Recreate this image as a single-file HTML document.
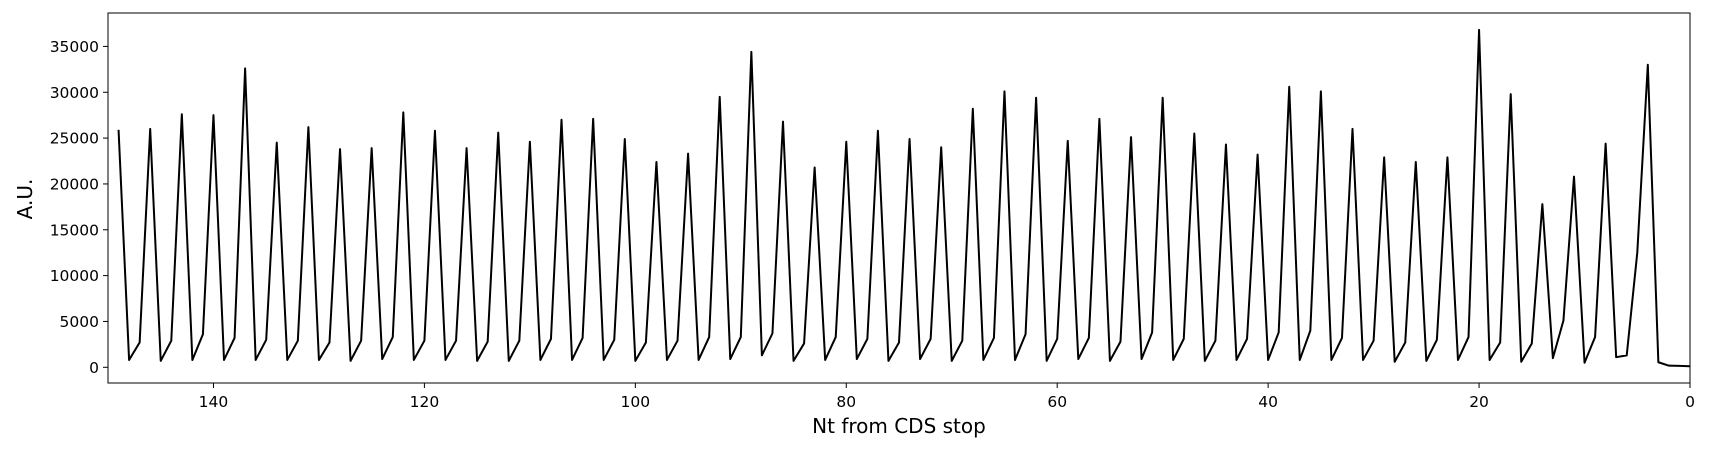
<!DOCTYPE html>
<html><head><meta charset="utf-8"><style>
html,body{margin:0;padding:0;background:#fff;}
svg{display:block;font-family:"DejaVu Sans","Liberation Sans",sans-serif;}
</style></head><body>
<svg id="chart" width="1710" height="450">
<g id="plot"></g>
</svg>
<script>
const xTicks = [140,120,100,80,60,40,20,0];
const yTicks = [0,5000,10000,15000,20000,25000,30000,35000];
// values for Nt = 149 down to 0
const values = [
25900,800,2700, 26000,700,2900, 27600,800,3600, 27500,800,3200, 32600,800,3000,
24500,800,2900, 26200,800,2700, 23800,700,2900, 23900,900,3300, 27800,800,2900,
25800,800,2900, 23900,700,2800, 25600,700,2900, 24600,800,3100, 27000,800,3200,
27100,800,3000, 24900,700,2700, 22400,800,2900, 23300,800,3300, 29500,900,3300,
34400,1300,3700, 26800,700,2600, 21800,800,3300, 24600,900,3100, 25800,700,2700,
24900,900,3100, 24000,700,2900, 28200,800,3200, 30100,800,3600, 29400,700,3100,
24700,900,3200, 27100,700,2800, 25100,900,3800, 29400,800,3100, 25500,700,2900,
24300,800,3100, 23200,800,3800, 30600,800,4000, 30100,800,3200, 26000,800,2900,
22900,600,2700, 22400,700,3000, 22900,800,3300, 36800,800,2700, 29800,600,2600,
17800,1000,5100, 20800,500,3300, 24400,1100,1300,
12500,33000,550,180,150,120
];
const xDom=[150,0], yDom=[-1714,38646];
const L=108,R=1690,T=13,B=383;
const sx=v=>L+(v-xDom[0])/(xDom[1]-xDom[0])*(R-L);
const sy=v=>B-(v-yDom[0])/(yDom[1]-yDom[0])*(B-T);
const NS="http://www.w3.org/2000/svg";
const g=document.getElementById('plot');
function mk(t,a){const e=document.createElementNS(NS,t);for(const k in a)e.setAttribute(k,a[k]);g.appendChild(e);return e;}
let d='';
values.forEach((v,i)=>{const x=149-i;d+=(i?'L':'M')+sx(x).toFixed(2)+','+sy(v).toFixed(2);});
const line=mk('path',{d:d,fill:'none',stroke:'#000','stroke-width':2,'stroke-linejoin':'round'});


const frame=mk('rect',{x:L,y:T,width:R-L,height:B-T,fill:'none',stroke:'#000','stroke-width':1});


xTicks.forEach(t=>{
  const x=sx(t);
  const tk=mk('line',{x1:x,x2:x,y1:B,y2:B+5,stroke:'#000','stroke-width':1});
  
  
  const lb=mk('text',{x:x,y:407,'font-size':15.5,'text-anchor':'middle',fill:'#000'});
  lb.textContent=t;
  
  
});
yTicks.forEach(t=>{
  const y=sy(t);
  const tk=mk('line',{x1:L-5,x2:L,y1:y,y2:y,stroke:'#000','stroke-width':1});
  
  
  const lb=mk('text',{x:99,y:y+5.5,'font-size':15.5,'text-anchor':'end',fill:'#000'});
  lb.textContent=t;
  
  
});
const xt=mk('text',{x:(L+R)/2,y:433,'font-size':20,'text-anchor':'middle',fill:'#000'});
xt.textContent='Nt from CDS stop';


const yt=mk('text',{x:0,y:0,'font-size':20,'text-anchor':'middle',fill:'#000',transform:'translate(32,199) rotate(-90)'});
yt.textContent='A.U.';


</script>
</body></html>
